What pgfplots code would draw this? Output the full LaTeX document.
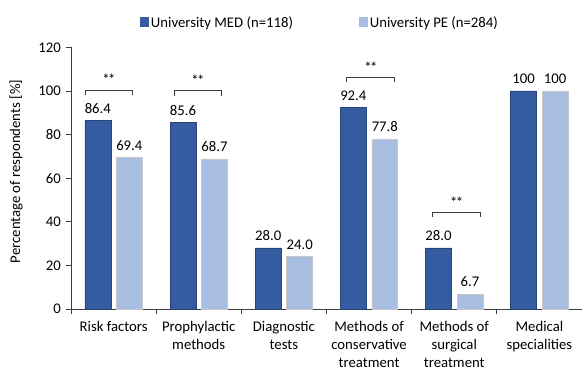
\documentclass[border=0pt]{standalone}
\usepackage{pgfplots}
\pgfplotsset{compat=1.18}
\usepackage{fontspec}
\setmainfont{Carlito}
\definecolor{med}{RGB}{53,91,160}
\definecolor{pe}{RGB}{167,189,226}
\definecolor{axisgray}{RGB}{60,60,60}
\newcommand{\cf}{\fontsize{14.8}{18.5}\selectfont}
\newcommand{\sig}{*\kern-1.6bp*}
\begin{document}
\begin{tikzpicture}[font=\cf]
\begin{axis}[
  at={(0,0)}, anchor=south west,
  scale only axis, width=511bp, height=261.6bp,
  xmin=-0.5, xmax=5.5, ymin=0, ymax=120,
  axis x line=bottom, axis y line=left,
  axis line style={axisgray, line width=0.8bp, -},
  tick style={axisgray, line width=0.8bp},
  tick align=outside,
  major tick length=5bp, minor tick length=5bp,
  ytick={0,20,...,120},
  xtick={0,...,5},
  xticklabels={Risk factors, Prophylactic\\methods, Diagnostic\\tests, Methods of\\conservative\\treatment, Methods of\\surgical\\treatment, Medical\\specialities},
  major x tick style={draw=none},
  minor xtick={-0.5,0.5,...,4.5},
  xticklabel style={align=center, anchor=north, inner sep=0pt, yshift=-7bp, font=\fontsize{14.8}{18.2}\selectfont},
  yticklabel style={font=\cf, inner sep=0pt, xshift=-5bp},
  /pgf/number format/assume math mode=true,
  ylabel={Percentage of respondents [\%]},
  every axis y label/.style={at={(axis description cs:-0.1076,0.5256)}, rotate=90, anchor=center, font=\cf},
  ybar,
  point meta=explicit symbolic,
  nodes near coords,
  nodes near coords style={font=\cf, inner sep=0pt, anchor=south, yshift=7bp, text=black},
  legend columns=2,
  legend style={draw=none, fill=none, at={(axis description cs:0.4863,1.0954)}, anchor=center,
    inner sep=0pt, nodes={inner sep=1.5bp}, font=\cf,
    /tikz/every even column/.append style={column sep=64bp}},
  legend image code/.code={\fill[#1, draw=none] (0bp,-4.3bp) rectangle (9.8bp,5.0bp);},
  clip=false,
]
\addplot[fill=med, draw=med!75!black, line width=0.5bp, bar width=0.305, bar shift=-0.185]
  coordinates {(0,86.4)[86.4] (1,85.6)[85.6] (2,28.0)[28.0] (3,92.4)[92.4] (4,28.0)[28.0] (5,100)[100]};
\addlegendentry{University MED (n=118)}
\addplot[fill=pe, draw=black!22, line width=0.7bp, bar width=0.305, bar shift=0.185]
  coordinates {(0,69.4)[69.4] (1,68.7)[68.7] (2,24.0)[24.0] (3,77.8)[77.8] (4,6.7)[6.7] (5,100)[100]};
\addlegendentry{University PE (n=284)}
% significance brackets
\draw[axisgray, line width=0.8bp] (axis cs:-0.336,98.2) -- (axis cs:-0.336,100.5) -- (axis cs:0.224,100.5) -- (axis cs:0.224,98.2);
\node[anchor=base, inner sep=0pt] at (axis cs:-0.056,102.8) {\sig};
\draw[axisgray, line width=0.8bp] (axis cs:0.712,97.8) -- (axis cs:0.712,100.1) -- (axis cs:1.269,100.1) -- (axis cs:1.269,97.8);
\node[anchor=base, inner sep=0pt] at (axis cs:0.99,102.4) {\sig};
\draw[axisgray, line width=0.8bp] (axis cs:2.739,104.1) -- (axis cs:2.739,106.4) -- (axis cs:3.303,106.4) -- (axis cs:3.303,104.1);
\node[anchor=base, inner sep=0pt] at (axis cs:3.021,108.7) {\sig};
\draw[axisgray, line width=0.8bp] (axis cs:3.745,42.0) -- (axis cs:3.745,44.3) -- (axis cs:4.309,44.3) -- (axis cs:4.309,42.0);
\node[anchor=base, inner sep=0pt] at (axis cs:4.027,46.6) {\sig};
\end{axis}
\pgfresetboundingbox
\useasboundingbox (-71bp,-62bp) rectangle (511bp,309bp);
\end{tikzpicture}
\end{document}
